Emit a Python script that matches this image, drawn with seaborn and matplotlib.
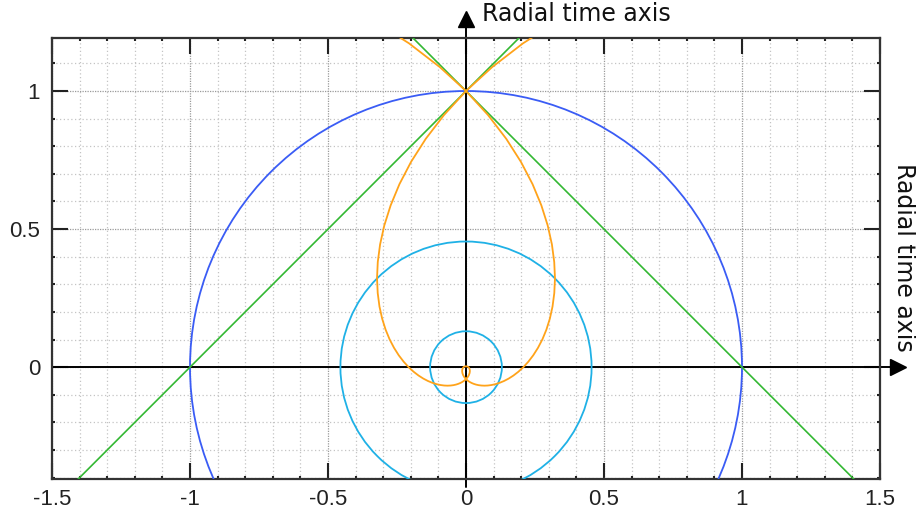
import numpy as np
import pandas as pd
import matplotlib
matplotlib.use("Agg")
import matplotlib.pyplot as plt
from matplotlib.patches import Circle
import seaborn as sns

# ---- data ----
x_ticks = [-1.5, -1, -0.5, 0, 0.5, 1, 1.5]
x_tick_labels = ["-1.5", "-1", "-0.5", "0", "0.5", "1", "1.5"]
y_ticks = [0, 0.5, 1]
y_tick_labels = ["0", "0.5", "1"]

# green straight lines (end points, clipped by the axes)
green1_x = [-1.5, 0.3]
green1_y = [-0.5, 1.3]
green2_x = [-0.3, 1.5]
green2_y = [1.3, -0.5]

# circles centred on the origin: blue unit circle, two light-blue rings
blue_radius = 1.0
lightblue_radii = [0.455, 0.13]

# orange spiral branch, polar samples (angle in degrees, radius)
spiral_deg = [105, 100, 95, 90, 85, 80, 75, 70, 65, 60, 55, 50, 45, 40, 35, 30,
              25, 20, 15, 10, 5, 0, -5, -10, -15, -20, -25, -30, -35, -40, -45,
              -50, -55, -60, -65, -70, -75, -80, -85, -90, -100, -110, -120,
              -130, -140, -150, -160, -170, -180, -200, -220, -240]
spiral_r = [1.299, 1.191, 1.091, 1.000, 0.9164, 0.8397, 0.7695, 0.7052, 0.6462,
            0.5922, 0.5427, 0.4973, 0.4559, 0.4176, 0.3827, 0.3507, 0.3214,
            0.2946, 0.2699, 0.2474, 0.2267, 0.2079, 0.1905, 0.1746, 0.1600,
            0.1466, 0.1343, 0.1231, 0.1128, 0.1034, 0.0948, 0.0868, 0.0796,
            0.0729, 0.0668, 0.0612, 0.0561, 0.0514, 0.0471, 0.0432, 0.0363,
            0.0305, 0.0256, 0.0215, 0.0181, 0.0152, 0.0127, 0.0107, 0.0090,
            0.0063, 0.0045, 0.0032]

axis_label = "Radial time axis"

# ---- colours ----
c_blue = "#3a5cf5"
c_light = "#1fb1e6"
c_orange = "#ffa31a"
c_green = "#33b833"

sns.set_theme(style="white")
plt.rcParams["font.family"] = ["DejaVu Sans"]

fig = plt.figure(figsize=(9.16, 5.2), dpi=100)
ax = fig.add_axes([52 / 916, 41 / 520, 828 / 916, 441 / 520])
ax.set_xlim(-1.5, 1.5)
ax.set_ylim(-0.405, 1.192)

# grid
ax.set_xticks(np.arange(-1.5, 1.51, 0.1), minor=True)
ax.set_yticks(np.arange(-0.4, 1.19, 0.1), minor=True)
ax.set_xticks(x_ticks)
ax.set_yticks(y_ticks)
ax.set_xticklabels(x_tick_labels)
ax.set_yticklabels(y_tick_labels)
ax.grid(which="minor", color="#c4c4c4", linestyle=(0, (1, 2)), linewidth=0.9)
ax.grid(which="major", color="#9a9a9a", linestyle=(0, (1, 1)), linewidth=0.9)
ax.set_axisbelow(True)

ax.tick_params(which="both", direction="in", top=True, right=True,
               bottom=True, left=True, colors="#222222")
ax.tick_params(which="major", length=11.5, width=1.5)
ax.tick_params(which="minor", length=2.5, width=1.5)
ax.tick_params(axis="x", which="major", pad=7, labelsize=16)
ax.tick_params(axis="y", which="major", pad=8.5, labelsize=16)
for lab in ax.get_xticklabels() + ax.get_yticklabels():
    lab.set_family("Liberation Sans")
for sp in ax.spines.values():
    sp.set_linewidth(1.6)
    sp.set_color("#333333")
    sp.set_visible(True)

# black axis lines with arrows
ax.plot([0, 0], [-0.435, 1.27], color="black", lw=1.4, clip_on=False, zorder=2)
ax.plot([0], [1.262], marker="^", color="black", markersize=11, clip_on=False, zorder=2)
ax.plot([-1.5, 1.56], [0, 0], color="black", lw=1.4, clip_on=False, zorder=2)
ax.plot([1.565], [0], marker=">", color="black", markersize=11, clip_on=False, zorder=2)

# circles
ax.add_patch(Circle((0, 0), blue_radius, fill=False, edgecolor=c_blue, lw=1.3, zorder=3))
for r in lightblue_radii:
    ax.add_patch(Circle((0, 0), r, fill=False, edgecolor=c_light, lw=1.3, zorder=3))

# green lines
for gx, gy in [(green1_x, green1_y), (green2_x, green2_y)]:
    sns.lineplot(x=gx, y=gy, ax=ax, color=c_green, lw=1.2, sort=False,
                 estimator=None, zorder=3)

# orange spiral (right branch and its mirror image)
th = np.radians(spiral_deg)
rr = np.array(spiral_r)
df_r = pd.DataFrame({"x": rr * np.cos(th), "y": rr * np.sin(th)})
df_l = pd.DataFrame({"x": -rr * np.cos(th), "y": rr * np.sin(th)})
for d in (df_r, df_l):
    sns.lineplot(data=d, x="x", y="y", ax=ax, color=c_orange, lw=1.3,
                 sort=False, estimator=None, zorder=4)

ax.set_xlabel("")
ax.set_ylabel("")

fig.text(482 / 916, 1 - 14 / 520, axis_label, ha="left", va="center",
         fontsize=17, color="#111111")
fig.text(904 / 916, 1 - 257 / 520, axis_label, ha="center", va="center",
         rotation=-90, fontsize=17, color="#111111")

fig.savefig("out.png", dpi=100)
